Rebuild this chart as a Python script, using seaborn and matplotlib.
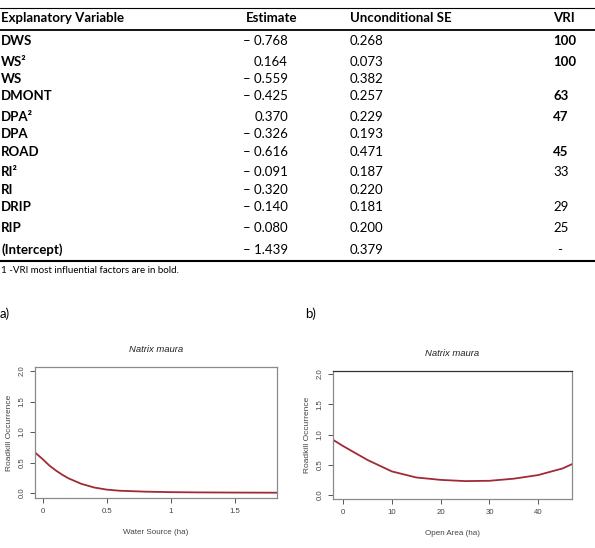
import matplotlib
matplotlib.use("Agg")
import matplotlib.pyplot as plt
from matplotlib.lines import Line2D
import seaborn as sns
import pandas as pd

# ---------------- data ----------------
variables = ["DWS", "WS\u00b2", "WS", "DMONT", "DPA\u00b2", "DPA", "ROAD", "RI\u00b2", "RI",
             "DRIP", "RIP", "(Intercept)"]
estimates = [-0.768, 0.164, -0.559, -0.425, 0.370, -0.326, -0.616, -0.091, -0.320,
             -0.140, -0.080, -1.439]
uncond_se = [0.268, 0.073, 0.382, 0.257, 0.229, 0.193, 0.471, 0.187, 0.220,
             0.181, 0.200, 0.379]
vri = ["100", "100", "", "63", "47", "", "45", "33", "", "29", "25", "-"]
vri_bold = [True, True, False, True, True, False, True, False, False, False, False, False]
headers = ["Explanatory Variable", "Estimate", "Unconditional SE", "VRI"]
footnote = "1 -VRI most influential factors are in bold."

water_x = [-0.06, 0.0, 0.05, 0.1, 0.15, 0.2, 0.3, 0.4, 0.5, 0.6, 0.8, 1.0, 1.2, 1.5, 1.83]
water_y = [0.66, 0.55, 0.45, 0.37, 0.30, 0.24, 0.15, 0.09, 0.055, 0.037, 0.022, 0.014,
           0.010, 0.007, 0.005]
open_x = [-2, 0, 5, 10, 15, 20, 25, 30, 35, 40, 45, 46.9]
open_y = [0.91, 0.81, 0.58, 0.39, 0.29, 0.25, 0.23, 0.235, 0.27, 0.33, 0.44, 0.51]

species = "Natrix maura"
ylabel = "Roadkill Occurrence"
xlabel_a = "Water Source (ha)"
xlabel_b = "Open Area (ha)"
xticks_a = [0, 0.5, 1, 1.5]
xticklabels_a = ["0", "0.5", "1", "1.5"]
xticks_b = [0, 10, 20, 30, 40]
yticks = [0.0, 0.5, 1.0, 1.5, 2.0]

# ---------------- style ----------------
sns.set_style("white")
plt.rcParams["font.family"] = ["Liberation Sans", "DejaVu Sans"]

W, H = 595, 548
fig = plt.figure(figsize=(W / 100, H / 100), dpi=100)


def fx(x):
    return x / W


def fy(y):
    return 1 - y / H


TF = "Lato"
FS = 9.5


def txt(x, y, s, bold=False, ha="left", size=FS):
    fig.text(fx(x), fy(y), s, ha=ha, va="center", fontsize=size,
             fontweight="bold" if bold else "normal", family=[TF, "DejaVu Sans"],
             color="black")


def hline(y, lw=1.0):
    fig.add_artist(Line2D([0, 1], [fy(y), fy(y)], transform=fig.transFigure,
                          color="black", lw=lw))


# table
hline(7.5, 0.8)
hline(30, 1.3)
hline(261, 1.5)
txt(1, 18, headers[0], bold=True)
txt(246, 18, headers[1], bold=True)
txt(350, 18, headers[2], bold=True)
txt(553, 18, headers[3], bold=True)

row_y = [40.7, 61.7, 79, 96, 116.7, 134.3, 151.7, 172.3, 190, 206.7, 227.7, 250]
for i, y in enumerate(row_y):
    txt(1, y, variables[i], bold=True)
    e = estimates[i]
    es = ("\u2013 %.3f" % abs(e)) if e < 0 else "%.3f" % e
    txt(288, y, es, ha="right")
    txt(350, y, "%.3f" % uncond_se[i])
    if vri[i]:
        xx = 557 if vri[i] == "-" else 553
        txt(xx, y, vri[i], bold=vri_bold[i])

txt(1, 270.5, footnote, size=7)
txt(0, 313.5, "a)")
txt(305, 313.5, "b)")

# ---------------- plots ----------------
line_col = "#a02a36"
text_col = "#444444"
spine_col = "#8a8a8a"


def style_ax(ax, xlabel):
    for s in ax.spines.values():
        s.set_color(spine_col)
        s.set_linewidth(0.9)
        s.set_visible(True)
    ax.tick_params(axis="both", which="both", direction="out", length=3.5, width=0.7,
                   color="#555555", labelsize=5.6, labelcolor=text_col, pad=3.5,
                   left=True, bottom=True)
    ax.set_yticks(yticks)
    ax.set_yticklabels(["%.1f" % v for v in yticks], rotation=90, va="center")
    ax.set_xlabel(xlabel, fontsize=5.8, color=text_col, labelpad=10.5)
    ax.set_ylabel(ylabel, fontsize=6, color=text_col, labelpad=4)
    ax.set_title(species, fontsize=6.8, style="italic", color="#222222", pad=11)
    ax.grid(False)


ax1 = fig.add_axes([fx(35), fy(498), fx(277) - fx(35), fy(367) - fy(498)])
df_a = pd.DataFrame({"x": water_x, "y": water_y})
sns.lineplot(data=df_a, x="x", y="y", ax=ax1, color=line_col, lw=1.3)
ax1.set_xlim(-0.0625, 1.83)
ax1.set_ylim(-0.082, 2.066)
ax1.set_xticks(xticks_a)
ax1.set_xticklabels(xticklabels_a)
style_ax(ax1, xlabel_a)

ax2 = fig.add_axes([fx(333), fy(499), fx(572) - fx(333), fy(371) - fy(499)])
df_b = pd.DataFrame({"x": open_x, "y": open_y})
sns.lineplot(data=df_b, x="x", y="y", ax=ax2, color=line_col, lw=1.3)
ax2.set_xlim(-2.05, 46.9)
ax2.set_ylim(-0.066, 2.05)
ax2.set_xticks(xticks_b)
style_ax(ax2, xlabel_b)
ax2.spines["top"].set_color("#333333")

fig.savefig("out.png", dpi=100)
